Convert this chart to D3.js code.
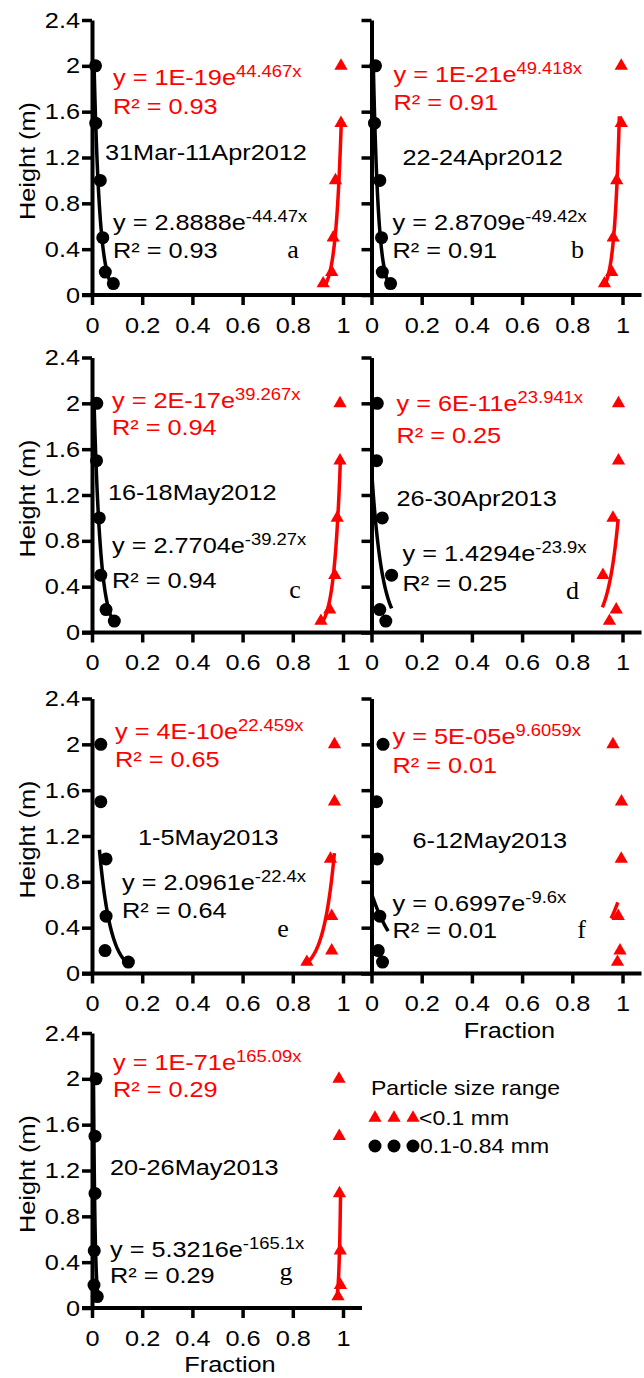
<!DOCTYPE html>
<html>
<head>
<meta charset="utf-8">
<script src="https://cdn.jsdelivr.net/npm/d3@7"></script>
<style>
  body { margin: 0; background: #fff; }
  text { font-family: "Liberation Sans", Arial, sans-serif; }
</style>
</head>
<body>
<svg id="chart" width="644" height="1378"></svg>
<script>
// sampling heights (m), bottom to top
var heights = [0.1, 0.2, 0.5, 1.0, 1.5, 2.0];

var panelIds = ["a", "b", "c", "d", "e", "f", "g"];
var periods = ["31Mar-11Apr2012", "22-24Apr2012", "16-18May2012", "26-30Apr2013",
               "1-5May2013", "6-12May2013", "20-26May2013"];

// fraction of 0.1-0.84 mm particles at each height (black dots)
var coarse = [
  [0.085, 0.053, 0.043, 0.033, 0.015, 0.014],
  [0.076, 0.043, 0.040, 0.033, 0.012, 0.016],
  [0.089, 0.056, 0.035, 0.029, 0.018, 0.019],
  [0.057, 0.033, 0.080, 0.043, 0.020, 0.023],
  [0.145, 0.052, 0.056, 0.056, 0.035, 0.035],
  [0.044, 0.027, 0.033, 0.023, 0.020, 0.046],
  [0.021, 0.008, 0.009, 0.012, 0.012, 0.016]
];
// fraction of <0.1 mm particles at each height (red triangles)
var fine = [
  [0.921, 0.955, 0.961, 0.970, 0.992, 0.992],
  [0.928, 0.957, 0.963, 0.977, 0.995, 0.995],
  [0.912, 0.947, 0.967, 0.977, 0.988, 0.988],
  [0.948, 0.975, 0.922, 0.962, 0.984, 0.984],
  [0.856, 0.955, 0.955, 0.950, 0.966, 0.966],
  [0.980, 0.990, 0.983, 0.995, 0.996, 0.962],
  [0.980, 0.990, 0.989, 0.986, 0.985, 0.984]
];

// exponential trendlines  y = A e^(B x), as printed on the chart
var fineA = ["1E-19", "1E-21", "2E-17", "6E-11", "4E-10", "5E-05", "1E-71"];
var fineB = [44.467, 49.418, 39.267, 23.941, 22.459, 9.6059, 165.09];
var fineR2 = [0.93, 0.91, 0.94, 0.25, 0.65, 0.01, 0.29];
var coarseA = ["2.8888", "2.8709", "2.7704", "1.4294", "2.0961", "0.6997", "5.3216"];
var coarseB = [-44.47, -49.42, -39.27, -23.9, -22.4, -9.6, -165.1];
var coarseR2 = [0.93, 0.91, 0.94, 0.25, 0.64, 0.01, 0.29];
// height span covered by each drawn trendline
var fineTrend = [[0.08, 1.53], [0.085, 1.56], [0.08, 1.52], [0.22, 0.99], [0.08, 1.05], [0.48, 0.62], [0.1, 1.02]];
var coarseTrend = [[0.08, 2.05], [0.1, 2.05], [0.08, 2.05], [0.21, 1.33], [0.085, 1.08], [0.37, 0.70], [0.1, 2.0]];

var xTicks = [0, 0.2, 0.4, 0.6, 0.8, 1];
var yTicks = [0, 0.4, 0.8, 1.2, 1.6, 2, 2.4];
var legendTitle = "Particle size range";
var legendLabels = ["<0.1 mm", "0.1-0.84 mm"];

// ---------- layout ----------
var colX = [92, 371.5],
    rowTop = [20, 357.5, 698.5, 1033],
    plotW = 251, plotH = 275;
var sx = 1.15;   // the original font runs a bit wide
var red = "#ff0000";

// label offsets inside each panel (from the y axis and the top)
var layout = [
  {re: [21, 65], rr: [21, 94], pe: [13, 140], be: [21, 210], br: [21, 238], lt: [201, 238]},
  {re: [22, 62], rr: [22, 90], pe: [31, 145], be: [21, 210], br: [21, 238], lt: [206, 238]},
  {re: [20, 50], rr: [20, 77], pe: [16, 142], be: [20, 195], br: [20, 230], lt: [203, 240]},
  {re: [25, 53], rr: [25, 85], pe: [25, 148], be: [31, 203], br: [31, 233], lt: [201, 241]},
  {re: [23, 40], rr: [23, 68], pe: [46, 146], be: [30, 191], br: [30, 219], lt: [191, 238]},
  {re: [21, 45], rr: [21, 74], pe: [41, 149], be: [21, 212], br: [21, 239], lt: [210, 239]},
  {re: [21, 37], rr: [21, 64], pe: [18, 142], be: [18, 224], br: [18, 250], lt: [194, 247]}
];

var svg = d3.select("#chart");

function label(g, x, y, str, size, color, anchor) {
  return g.append("text")
    .attr("transform", "translate(" + x + "," + y + ") scale(" + sx + ",1)")
    .attr("font-size", size)
    .attr("fill", color || "#000")
    .attr("text-anchor", anchor || "start")
    .text(str);
}

function equation(g, x, y, base, sup, color) {
  var t = label(g, x, y, "", 22, color);
  t.append("tspan").text(base);
  t.append("tspan").attr("font-size", 16).attr("dy", -8).text(sup);
}

// trendline drawn over a height span: x = ln(h/A)/B
function trendPoints(a, b, span) {
  var pts = [], n = 40,
      lo = Math.log(span[0]), hi = Math.log(span[1]);
  for (var i = 0; i <= n; i++) {
    var h = Math.exp(lo + (hi - lo) * i / n);
    pts.push([Math.log(h / a) / b, h]);
  }
  return pts;
}

var tri = d3.symbol().type(d3.symbolTriangle).size(76);

panelIds.forEach(function(id, i) {
  var col = i % 2, row = Math.floor(i / 2);
  var x0 = colX[col], top = rowTop[row], L = layout[i];
  var g = svg.append("g");

  var x = d3.scaleLinear().domain([0, 1]).range([x0, x0 + plotW]);
  var y = d3.scaleLinear().domain([0, 2.4]).range([top + plotH, top]);

  // Y axis
  var gy = g.append("g")
    .attr("transform", "translate(" + x0 + ",0)")
    .call(d3.axisLeft(y).tickValues(yTicks).tickSize(10).tickSizeOuter(0)
      .tickFormat(col === 0 ? d3.format("") : ""));
  gy.select(".domain").attr("stroke-width", 4);
  gy.selectAll(".tick line").attr("stroke-width", 3.5);
  gy.selectAll(".tick text")
    .style("font-size", "22px")
    .attr("x", -12 / sx).attr("transform", "scale(" + sx + ",1)");

  // X axis
  var gx = g.append("g")
    .attr("transform", "translate(0," + (top + plotH) + ")")
    .call(d3.axisBottom(x).tickValues(xTicks).tickSize(10).tickSizeOuter(0)
      .tickPadding(12).tickFormat(d3.format("")));
  gx.select(".domain").remove();
  gx.append("line")
    .attr("x1", x0 - 10).attr("x2", x0 + 270)
    .attr("stroke", "#000").attr("stroke-width", 4);
  gx.selectAll(".tick line").attr("stroke-width", 3.5);
  gx.selectAll(".tick text")
    .style("font-size", "22px")
    .attr("transform", "scale(" + sx + ",1)");

  if (col === 0) {
    g.append("text")
      .attr("transform", "translate(35," + (top + 141) + ") rotate(-90) scale(" + sx + ",1)")
      .attr("text-anchor", "middle").attr("font-size", 22)
      .text("Height (m)");
  }

  var line = d3.line().x(function(d) { return x(d[0]); }).y(function(d) { return y(d[1]); });

  // trendlines
  g.append("path")
    .attr("d", line(trendPoints(+coarseA[i], coarseB[i], coarseTrend[i])))
    .attr("fill", "none").attr("stroke", "#000").attr("stroke-width", 3.5);
  g.append("path")
    .attr("d", line(trendPoints(+fineA[i], fineB[i], fineTrend[i])))
    .attr("fill", "none").attr("stroke", red).attr("stroke-width", 3.5);

  // markers
  g.selectAll("circle.pt")
    .data(heights).enter().append("circle")
    .attr("class", "pt")
    .attr("cx", function(h, k) { return x(coarse[i][k]); })
    .attr("cy", function(h) { return y(h); })
    .attr("r", 6.5).attr("fill", "#000");
  g.selectAll("path.tri")
    .data(heights).enter().append("path")
    .attr("class", "tri")
    .attr("d", tri)
    .attr("transform", function(h, k) { return "translate(" + x(fine[i][k]) + "," + y(h) + ")"; })
    .attr("fill", red);

  // annotations
  equation(g, x0 + L.re[0], top + L.re[1], "y = " + fineA[i] + "e", fineB[i] + "x", red);
  label(g, x0 + L.rr[0], top + L.rr[1], "R\u00b2 = " + fineR2[i].toFixed(2), 22, red);
  label(g, x0 + L.pe[0], top + L.pe[1], periods[i], 22);
  equation(g, x0 + L.be[0], top + L.be[1], "y = " + coarseA[i] + "e", coarseB[i] + "x", "#000");
  label(g, x0 + L.br[0], top + L.br[1], "R\u00b2 = " + coarseR2[i].toFixed(2), 22);
  g.append("text")
    .attr("x", x0 + L.lt[0]).attr("y", top + L.lt[1])
    .attr("text-anchor", "middle")
    .style("font-family", "'Liberation Serif', 'Times New Roman', serif")
    .style("font-size", "26px")
    .text(id);

  if (id === "f" || id === "g") {
    label(g, x0 + 138, top + plotH + 64, "Fraction", 22, "#000", "middle");
  }
});

// legend
var lg = svg.append("g");
label(lg, 371, 1095, legendTitle, 20);
[375, 394, 413].forEach(function(cx) {
  lg.append("path").attr("d", tri).attr("transform", "translate(" + cx + ",1118)").attr("fill", red);
  lg.append("circle").attr("cx", cx).attr("cy", 1146).attr("r", 6.5).attr("fill", "#000");
});
label(lg, 419, 1125, legendLabels[0], 20);
label(lg, 420, 1153, legendLabels[1], 20);
</script>
</body>
</html>
